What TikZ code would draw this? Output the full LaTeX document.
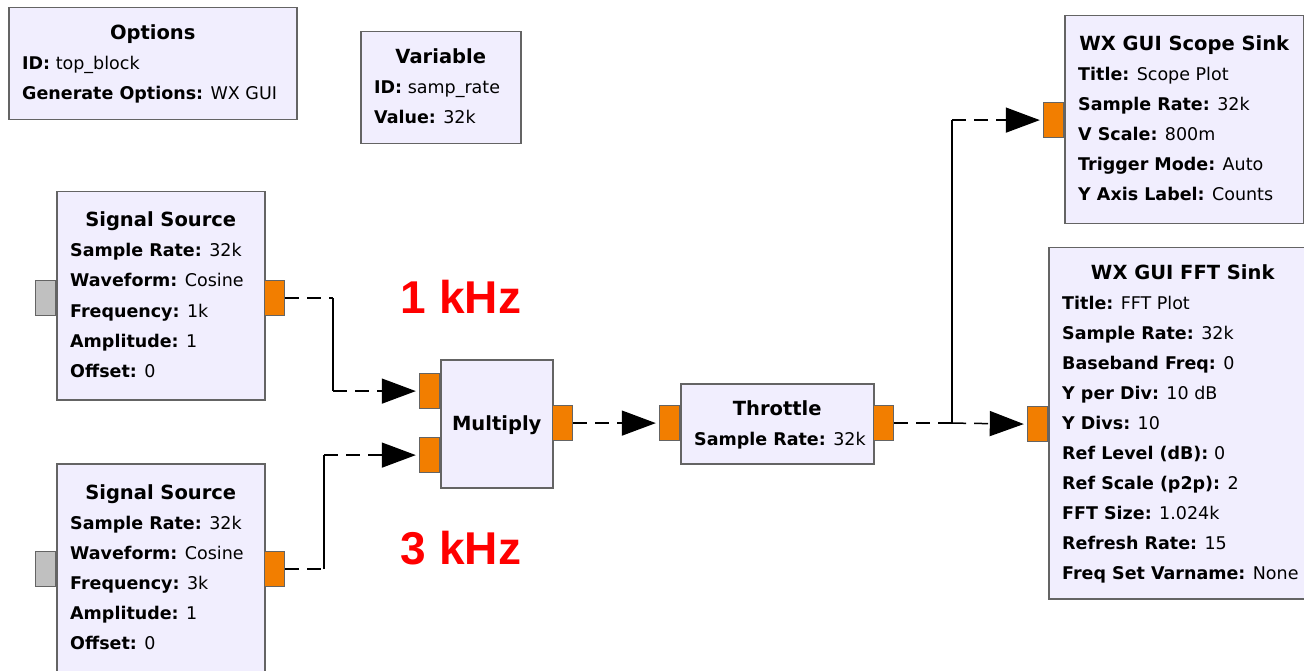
\documentclass[tikz,border=0pt]{standalone}
\usepackage{fontspec}
\setmainfont{DejaVu Sans}
\newfontfamily\labelfont{Liberation Sans}
\usetikzlibrary{arrows.meta,calc}
\definecolor{blockfill}{RGB}{241,238,254}
\definecolor{blockline}{RGB}{100,100,100}
\definecolor{portor}{RGB}{242,126,0}
\definecolor{portgr}{RGB}{192,192,192}
\tikzset{
  blockbox/.style={rectangle, draw=blockline, fill=blockfill, line width=1.5pt, inner sep=0pt},
  orport/.style={rectangle, draw=blockline, fill=portor, line width=1.2pt, minimum width=20pt, minimum height=35pt, inner sep=0pt},
  grport/.style={rectangle, draw=blockline, fill=portgr, line width=1.2pt, minimum width=20pt, minimum height=35pt, inner sep=0pt},
  titletext/.style={font=\fontsize{19.5}{24}\selectfont\bfseries, inner sep=0pt},
  linetext/.style={font=\fontsize{17.5}{21}\selectfont, inner sep=0pt},
  wire/.style={line width=1.5pt, black, dash pattern=on 14pt off 8pt},
  solidwire/.style={line width=1.5pt, black},
  tipped/.style={-{Triangle[length=34pt,width=25pt]}, shorten >=3pt},
  freqlabel/.style={font=\labelfont\fontsize{46}{50}\selectfont\bfseries, text=red, inner sep=0pt}
}
% #1 name, #2 x, #3 y, #4 w, #5 h, #6 title, #7 lines, #8 title baseline offset
\newcommand{\gblock}[8]{%
  \node[blockbox, minimum width=#4pt, minimum height=#5pt, anchor=north west] (#1) at (#2,#3) {};
  \node[titletext, anchor=base] (#1-t) at ($(#1.north)+(0,#8)$) {#6};
  \foreach \k/\v [count=\i] in {#7} {\node[linetext, anchor=base west] (#1-\i) at ($(#1.north west)+(14,#8+30*\i)$) {\textbf{\k:} \v};}
}
\begin{document}
\begin{tikzpicture}[x=1pt,y=-1pt]
\useasboundingbox (0,0) rectangle (1304,671);
\clip (0,0) rectangle (1304,671);

% blocks
\gblock{opt}{8}{7}{288}{112}{Options}{ID/top\_block, Generate Options/WX GUI}{33}
\gblock{var}{360}{31}{160}{112}{Variable}{ID/samp\_rate, Value/32k}{33}
\gblock{ssa}{56}{191}{208}{208}{Signal Source}{Sample Rate/32k, Waveform/Cosine, Frequency/1k, Amplitude/1, Offset/0}{36}
\gblock{ssb}{56}{463}{208}{208}{Signal Source}{Sample Rate/32k, Waveform/Cosine, Frequency/3k, Amplitude/1, Offset/0}{36}
\node[blockbox, minimum width=112pt, minimum height=128pt, anchor=north west] (mul) at (440,359) {};
\node[titletext, anchor=base] (mul-t) at ($(mul.north)+(0,71)$) {Multiply};
\gblock{thr}{680}{383}{193}{80}{Throttle}{Sample Rate/32k}{32}
\gblock{scp}{1064}{15}{239}{208}{WX GUI Scope Sink}{Title/Scope Plot, Sample Rate/32k, V Scale/800m, Trigger Mode/Auto, Y Axis Label/Counts}{36}
\gblock{fft}{1048}{247}{268}{351}{WX GUI FFT Sink}{Title/FFT Plot, Sample Rate/32k, Baseband Freq/0, Y per Div/10 dB, Y Divs/10, Ref Level (dB)/0, Ref Scale (p2p)/2, FFT Size/1.024k, Refresh Rate/15, Freq Set Varname/None}{32.5}

% ports
\node[grport, anchor=north east] (ssa-in) at (56,280) {};
\node[orport, anchor=north west] (ssa-out) at (264,280) {};
\node[grport, anchor=north east] (ssb-in) at (56,551) {};
\node[orport, anchor=north west] (ssb-out) at (264,551) {};
\node[orport, anchor=north east] (mul-in1) at (440,373) {};
\node[orport, anchor=north east] (mul-in2) at (440,437) {};
\node[orport, anchor=north west] (mul-out) at (552,405) {};
\node[orport, anchor=north east] (thr-in) at (680,405) {};
\node[orport, anchor=north west] (thr-out) at (873,405) {};
\node[orport, anchor=north east] (scp-in) at (1064,102) {};
\node[orport, anchor=north east] (fft-in) at (1048,406) {};

% connectors
\path (ssa-out.east) ++(48,0) coordinate (ca1);
\coordinate (ca2) at (ca1 |- mul-in1.west);
\draw[wire] (ssa-out.east) -- (ca1);
\draw[solidwire] (ca1) -- (ca2);
\draw[wire, tipped] (ca2) -- (mul-in1.west);

\path (ssb-out.east) ++(39,0) coordinate (cb1);
\coordinate (cb2) at (cb1 |- mul-in2.west);
\draw[wire] (ssb-out.east) -- (cb1);
\draw[solidwire] (cb1) -- (cb2);
\draw[wire, tipped] (cb2) -- (mul-in2.west);

\draw[wire, tipped] (mul-out.east) -- (thr-in.west);

\path (thr-out.east) ++(58,0) coordinate (jn);
\coordinate (jt) at (jn |- scp-in.west);
\draw[wire] (thr-out.east) -- (jn);
\draw[wire, tipped] (jn) -- (fft-in.west);
\draw[solidwire] (jn) -- (jt);
\draw[wire, tipped] (jt) -- (scp-in.west);

% labels
\node[freqlabel, anchor=base] (f1) at (461,313) {1 kHz};
\node[freqlabel, anchor=base] (f3) at (461,564) {3 kHz};
\end{tikzpicture}
\end{document}
